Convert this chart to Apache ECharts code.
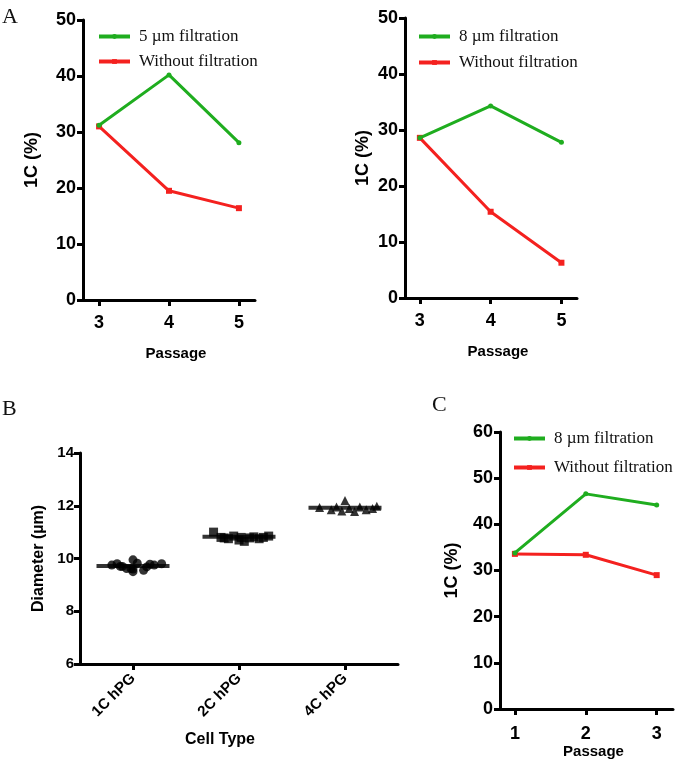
<!DOCTYPE html>
<html>
<head>
<meta charset="utf-8">
<script src="https://cdn.jsdelivr.net/npm/echarts@6/dist/echarts.min.js"></script>
<style>
  html, body { margin: 0; padding: 0; background: #fff; }
  #chart { width: 693px; height: 762px; }
</style>
</head>
<body>
<div id="chart"></div>
<script>
/* 数据 */
const passagesA = [3, 4, 5];
const filt5 = [31.2, 40.2, 28.1];
const noFiltA1 = [31.0, 19.5, 16.4];
const filt8 = [28.6, 34.3, 27.8];
const noFiltA2 = [28.6, 15.4, 6.3];

const passagesC = [1, 2, 3];
const filt8C = [33.8, 46.6, 44.2];
const noFiltC = [33.6, 33.4, 29.0];

const cellTypes = ['1C hPG', '2C hPG', '4C hPG'];
const d1C = [9.75, 9.8, 9.7, 9.62, 9.95, 9.6, 9.5, 9.82, 9.55, 9.68, 9.78, 9.75, 9.62, 9.7, 9.8];
const jit1C = [-0.2, -0.15, -0.1, -0.06, 0, 0, 0, 0.04, 0.1, 0.13, 0.16, 0.2, -0.02, -0.12, 0.27];
const d2C = [11.0, 10.8, 10.75, 10.85, 10.7, 10.8, 10.65, 10.78, 10.82, 10.75, 10.8, 10.85, 10.78];
const jit2C = [-0.24, -0.17, -0.1, -0.05, 0, 0.02, 0.05, 0.1, 0.14, 0.19, 0.23, 0.28, -0.14];
const d4C = [11.93, 11.85, 11.95, 11.8, 12.2, 11.9, 11.78, 11.95, 11.85, 11.9, 11.98];
const jit4C = [-0.24, -0.13, -0.08, -0.03, 0, 0.04, 0.09, 0.14, 0.2, 0.26, 0.3];
const means = [9.72, 10.82, 11.92];

const green = '#1fad1f';
const red = '#f4211f';
const sansBold = { fontFamily: 'Liberation Sans', fontWeight: 'bold', color: '#000' };

const pairs = (xs, ys) => xs.map((x, i) => [x, ys[i]]);

const axisLine = { show: true, onZero: false, lineStyle: { color: '#000', width: 3 } };
const tick = { show: true, length: 6, lineStyle: { color: '#000', width: 3 } };

function xPassage(gridIndex, min, max, values, margin, nameGap) {
  return {
    gridIndex, type: 'value', min, max,
    axisLine, splitLine: { show: false },
    axisTick: { ...tick, customValues: values },
    axisLabel: { ...sansBold, customValues: values, fontSize: 18, margin },
    name: 'Passage', nameLocation: 'middle', nameGap,
    nameTextStyle: { ...sansBold, fontSize: 15, padding: [0, 0, 0, 14] }
  };
}
function yPct(gridIndex, max, nameGap) {
  return {
    gridIndex, type: 'value', min: 0, max, interval: 10,
    axisLine, splitLine: { show: false }, axisTick: tick,
    axisLabel: { ...sansBold, fontSize: 18, margin: 7 },
    name: '1C (%)', nameLocation: 'middle', nameGap,
    nameTextStyle: { ...sansBold, fontSize: 18 }
  };
}
function lineSeries(name, xi, xs, ys, color, symbol) {
  return {
    name, type: 'line', xAxisIndex: xi, yAxisIndex: xi,
    data: pairs(xs, ys), symbol, symbolSize: symbol === 'rect' ? 6 : 5,
    lineStyle: { color, width: 3 }, itemStyle: { color }, z: symbol === 'rect' ? 3 : 4
  };
}
function legend(left, top, gap, names) {
  return {
    orient: 'vertical', left, top, itemWidth: 31, itemHeight: 6, itemGap: gap,
    data: names, selectedMode: false,
    lineStyle: { width: 4 },
    textStyle: { fontFamily: 'Liberation Serif', fontSize: 17, color: '#111', lineHeight: 14, padding: [0, 0, 0, 4] }
  };
}
function dots(xIdx, ys, jit, symbol) {
  return {
    type: 'scatter', xAxisIndex: 2, yAxisIndex: 2, symbol, symbolSize: 9,
    itemStyle: { color: '#000' },
    data: ys.map((y, i) => [xIdx + jit[i], y])
  };
}

const chart = echarts.init(document.getElementById('chart'));
const option = {
  animation: false,
  backgroundColor: '#fff',
  graphic: [
    { type: 'text', left: 2, top: 6, style: { text: 'A', font: '22px "Liberation Serif"', fill: '#111' } },
    { type: 'text', left: 2, top: 398, style: { text: 'B', font: '22px "Liberation Serif"', fill: '#111' } },
    { type: 'text', left: 432, top: 394, style: { text: 'C', font: '22px "Liberation Serif"', fill: '#111' } }
  ],
  grid: [
    { left: 83, top: 20, width: 172, height: 280 },
    { left: 405, top: 18, width: 172, height: 280 },
    { left: 80, top: 453, width: 318, height: 211 },
    { left: 500, top: 432, width: 173, height: 277 }
  ],
  legend: [
    legend(92, 23, 8, ['5 µm filtration', 'Without filtration']),
    legend(412, 23, 9, ['8 µm filtration', 'Without filtration']),
    legend(507, 425, 12, ['8 µm filtration', 'Without filtration'])
  ],
  xAxis: [
    xPassage(0, 2.77, 5.23, passagesA, 14, 46),
    xPassage(1, 2.79, 5.22, passagesA, 14, 46),
    {
      gridIndex: 2, type: 'value', min: 0.5, max: 3.5,
      axisLine, splitLine: { show: false },
      axisTick: { ...tick, customValues: [1, 2, 3] },
      axisLabel: {
        ...sansBold, fontSize: 15, rotate: 45, margin: 12, customValues: [1, 2, 3],
        formatter: v => cellTypes[Math.round(v) - 1]
      },
      name: 'Cell Type', nameLocation: 'middle', nameGap: 68,
      nameTextStyle: { ...sansBold, fontSize: 16, padding: [0, 38, 0, 0] }
    },
    xPassage(3, 0.79, 3.23, passagesC, 16, 33)
  ],
  yAxis: [
    yPct(0, 50, 42),
    yPct(1, 50, 33),
    {
      gridIndex: 2, type: 'value', min: 6, max: 14, interval: 2,
      axisLine, splitLine: { show: false }, axisTick: tick,
      axisLabel: { ...sansBold, fontSize: 15, margin: 6 },
      name: 'Diameter (µm)', nameLocation: 'middle', nameGap: 33,
      nameTextStyle: { ...sansBold, fontSize: 16 }
    },
    yPct(3, 60, 39)
  ],
  series: [
    lineSeries('Without filtration', 0, passagesA, noFiltA1, red, 'rect'),
    lineSeries('5 µm filtration', 0, passagesA, filt5, green, 'circle'),
    lineSeries('Without filtration', 1, passagesA, noFiltA2, red, 'rect'),
    lineSeries('8 µm filtration', 1, passagesA, filt8, green, 'circle'),
    lineSeries('Without filtration', 3, passagesC, noFiltC, red, 'rect'),
    lineSeries('8 µm filtration', 3, passagesC, filt8C, green, 'circle'),
    dots(1, d1C, jit1C, 'circle'),
    dots(2, d2C, jit2C, 'rect'),
    dots(3, d4C, jit4C, 'triangle'),
    {
      type: 'scatter', xAxisIndex: 2, yAxisIndex: 2, symbol: 'rect', symbolSize: [73, 4],
      itemStyle: { color: '#000' },
      data: means.map((m, i) => [i + 1, m])
    }
  ]
};
option && chart.setOption(option);
</script>
</body>
</html>
